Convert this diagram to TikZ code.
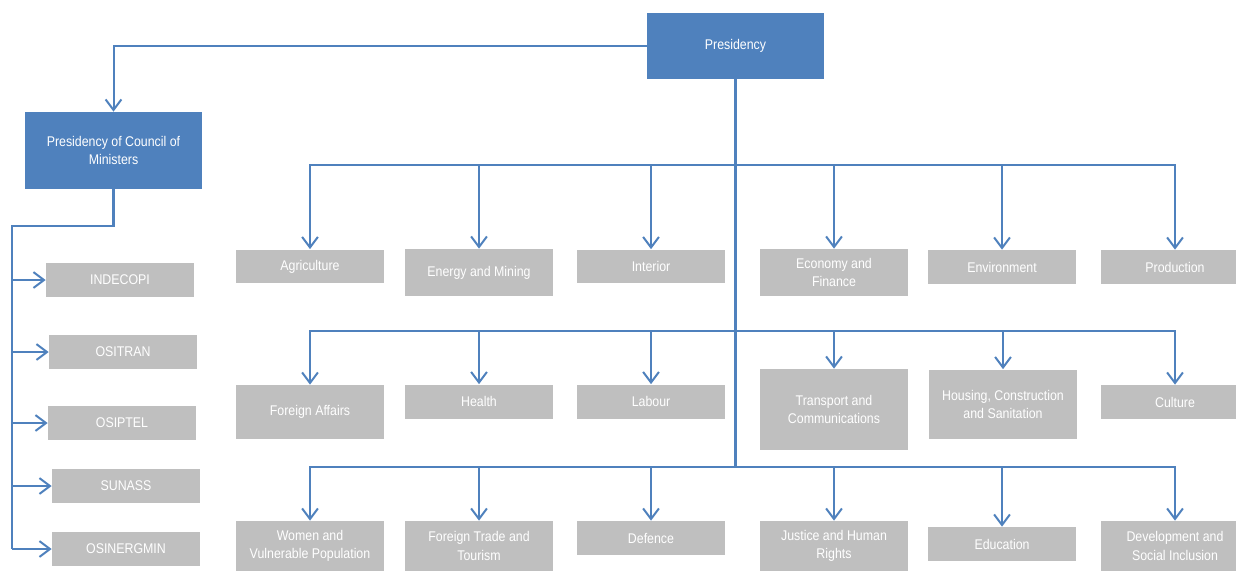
\documentclass[tikz,border=0pt]{standalone}
\usepackage{fontspec}
\setmainfont{Liberation Sans}[FakeStretch=0.88]
\usepackage{tikz}
\usetikzlibrary{arrows.meta}
\definecolor{offblue}{HTML}{4F81BD}
\definecolor{boxgray}{HTML}{BFBFBF}

\begin{document}
\begin{tikzpicture}[x=0.02cm,y=-0.02cm,
  head/.style={fill=offblue,text=white,font=\fontsize{8}{10.5}\selectfont,align=center,
    inner sep=0pt,minimum width=3.54cm},
  unit/.style={fill=boxgray,text=white,font=\fontsize{8}{10.5}\selectfont,align=center,
    inner sep=0pt,minimum width=2.96cm,minimum height=0.68cm},
  link/.style={offblue,line width=0.04cm,-{Straight Barb[length=6pt,width=9pt]}},
  trunk/.style={offblue,line width=0.05cm}]
\useasboundingbox (0,0) rectangle (1236,571);

% top of the chart
\node[head,minimum height=1.32cm] (pres) at (735.5,46) {Presidency};
\node[head,minimum height=1.54cm] (pcm) at (113.5,150.5) {Presidency of Council of\\Ministers};

% ministries, first row
\node[unit] (agri) at (310,266.5) {Agriculture};
\node[unit,minimum height=0.94cm] (energy) at (479,272.5) {Energy and Mining};
\node[unit] (interior) at (651,266.5) {Interior};
\node[unit,minimum height=0.94cm] (economy) at (834,272.5) {Economy and\\Finance};
\node[unit] (environ) at (1002,267) {Environment};
\node[unit] (produc) at (1175,267) {Production};

% second row
\node[unit,minimum height=1.08cm] (foreign) at (310,412) {Foreign Affairs};
\node[unit] (health) at (479,401.5) {Health};
\node[unit] (labour) at (651,401.5) {Labour};
\node[unit,minimum height=1.62cm] (transp) at (834,409.5) {Transport and\\Communications};
\node[unit,minimum height=1.4cm] (housing) at (1003,404.5) {Housing, Construction\\and Sanitation};
\node[unit] (culture) at (1175,402) {Culture};

% third row
\node[unit,minimum height=1.0cm] (women) at (310,546) {Women and\\Vulnerable Population};
\node[unit,minimum height=1.0cm] (trade) at (479,546) {Foreign Trade and\\Tourism};
\node[unit] (defence) at (651,538) {Defence};
\node[unit,minimum height=1.0cm] (justice) at (834,546) {Justice and Human\\Rights};
\node[unit] (educ) at (1002,544) {Education};
\node[unit,minimum height=1.0cm] (develop) at (1175,546) {Development and\\Social Inclusion};

% agencies under the PCM
\node[unit] (indecopi) at (120,280) {INDECOPI};
\node[unit] (ositran) at (123,352) {OSITRAN};
\node[unit] (osiptel) at (122,423) {OSIPTEL};
\node[unit] (sunass) at (126,486) {SUNASS};
\node[unit] (osinerg) at (126,549) {OSINERGMIN};

\coordinate (row1) at (735.5,165);
\coordinate (row2) at (735.5,331);
\coordinate (row3) at (735.5,467);
\coordinate (lbus) at (12,226);

\draw[link] (pres.west) -| (pcm.north);
\draw[trunk] (pres.south) -- (row3);

\draw[link] (row1) -| (agri.north);
\draw[link] (row1) -| (energy.north);
\draw[link] (row1) -| (interior.north);
\draw[link] (row1) -| (economy.north);
\draw[link] (row1) -| (environ.north);
\draw[link] (row1) -| (produc.north);

\draw[link] (row2) -| (foreign.north);
\draw[link] (row2) -| (health.north);
\draw[link] (row2) -| (labour.north);
\draw[link] (row2) -| (transp.north);
\draw[link] (row2) -| (housing.north);
\draw[link] (row2) -| (culture.north);

\draw[link] (row3) -| (women.north);
\draw[link] (row3) -| (trade.north);
\draw[link] (row3) -| (defence.north);
\draw[link] (row3) -| (justice.north);
\draw[link] (row3) -| (educ.north);
\draw[link] (row3) -| (develop.north);

\draw[trunk] (pcm.south) |- (lbus) -- (lbus |- osinerg.west);
\draw[link] (lbus |- indecopi.west) -- (indecopi.west);
\draw[link] (lbus |- ositran.west) -- (ositran.west);
\draw[link] (lbus |- osiptel.west) -- (osiptel.west);
\draw[link] (lbus |- sunass.west) -- (sunass.west);
\draw[link] (lbus |- osinerg.west) -- (osinerg.west);
\end{tikzpicture}
\end{document}
